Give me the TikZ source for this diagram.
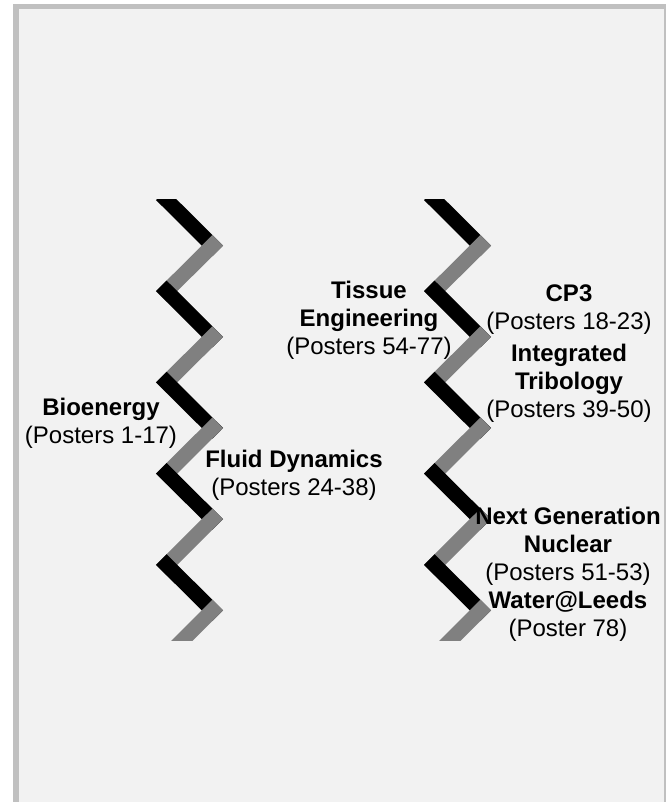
\documentclass[tikz,border=0pt]{standalone}
\usepackage{fontspec}
\setmainfont{Liberation Sans}
\definecolor{bgfill}{HTML}{F2F2F2}
\definecolor{framecol}{HTML}{C0C0C0}
\definecolor{zgray}{HTML}{808080}
\begin{document}
\begin{tikzpicture}[x=1pt,y=-1pt,
  lbl/.style={align=center, font=\fontsize{24}{28}\selectfont, inner sep=0pt, text=black},
  seg/.style={line width=15pt, line cap=rect}]
\useasboundingbox (0,0) rectangle (667,802);
\fill[white] (0,0) rectangle (667,802);
\fill[framecol] (13,4) rectangle (666,802);
\fill[bgfill] (19,9.5) rectangle (664,802);
% zigzag coordinates
\foreach \i in {0,...,10} {
  \pgfmathsetmacro\xx{ifthenelse(mod(\i,2)==0,166.6,212.4)}
  \pgfmathsetmacro\yy{200+45.6*\i}
  \coordinate (L\i) at (\xx,\yy);
  \coordinate (R\i) at (\xx+268,\yy);
}
\begin{scope}
  \clip (0,200) rectangle (667,640);
  \foreach \a/\b/\c in {0/1/black,1/2/zgray,2/3/black,3/4/zgray,4/5/black,5/6/zgray,6/7/black,7/8/zgray,8/9/black,9/10/zgray}{
    \draw[seg,draw=\c] (L\a) -- (L\b);
    \draw[seg,draw=\c] (R\a) -- (R\b);
  }
\end{scope}
% labels
\node[lbl] (bio) at (101,423) {\textbf{Bioenergy}\\(Posters 1-17)};
\node[lbl] (fluid) at (294,475) {\textbf{Fluid Dynamics}\\(Posters 24-38)};
\node[lbl] (tissue) at (369,320) {\textbf{Tissue}\\\textbf{Engineering}\\(Posters 54-77)};
\node[lbl] (cp3) at (569,310) {\textbf{CP3}\\(Posters 18-23)};
\node[lbl] (tribo) at (569,383) {\textbf{Integrated}\\\textbf{Tribology}\\(Posters 39-50)};
\node[lbl] (nuclear) at (568,546) {\textbf{Next Generation}\\\textbf{Nuclear}\\(Posters 51-53)};
\node[lbl] (water) at (568,616) {\textbf{Water@Leeds}\\(Poster 78)};
\end{tikzpicture}
\end{document}
